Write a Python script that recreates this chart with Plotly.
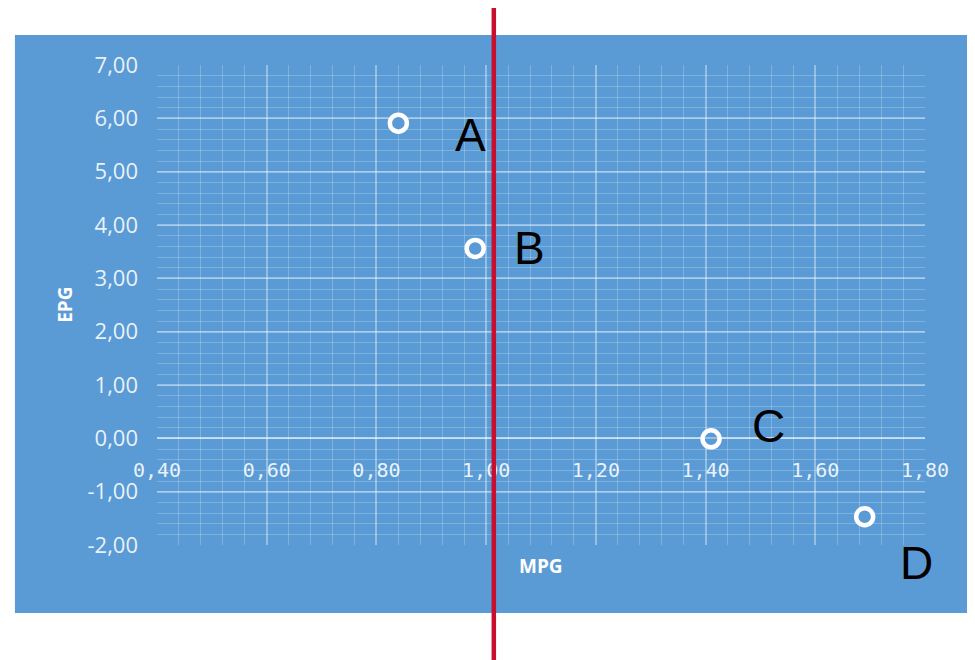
import plotly.graph_objects as go

# données
labels = ["A", "B", "C", "D"]
mpg = [0.84, 0.98, 1.41, 1.69]
epg = [5.91, 3.56, -0.01, -1.47]
seuil_mpg = 1.014

x_range = [0.40, 1.80]
y_range = [-2.0, 7.0]
y_ticks = [-2, -1, 0, 1, 2, 3, 4, 5, 6, 7]

# décalages des étiquettes (px)
label_dx = [72, 54, 57, 52]
label_dy = [-12, 0, 13, -46]

BLEU = "#5B9BD5"
ROUGE = "#C8102E"
GRID_MAJ = "rgba(255,255,255,0.36)"
GRID_MIN = "rgba(255,255,255,0.22)"
TXT = "rgba(255,255,255,0.88)"

fig = go.Figure()

fig.add_trace(go.Scatter(
    x=mpg, y=epg, mode="markers",
    marker=dict(symbol="circle", size=17, color=BLEU,
                line=dict(color="white", width=4.5)),
    showlegend=False, hoverinfo="x+y",
))

for lab, x, y, dx, dy in zip(labels, mpg, epg, label_dx, label_dy):
    fig.add_annotation(x=x, y=y, text=lab, showarrow=False,
                       xshift=dx, yshift=dy,
                       font=dict(family="Liberation Sans, Arial", size=46, color="black"))

# fond bleu du graphique
fig.add_shape(type="rect", xref="paper", yref="paper",
              x0=-0.185, x1=1.08, y0=-0.1417, y1=1.0625,
              fillcolor=BLEU, line_width=0, layer="below")

# ligne rouge verticale
fig.add_shape(type="line", xref="x", yref="paper",
              x0=seuil_mpg, x1=seuil_mpg, y0=-0.26, y1=1.13,
              line=dict(color=ROUGE, width=4.5), layer="above")

# titres des axes
fig.add_annotation(xref="paper", yref="paper", x=0.5, y=-0.044,
                   xanchor="center", yanchor="middle",
                   text="<b>MPG</b>", showarrow=False,
                   font=dict(family="Open Sans", size=19, color="white"))
fig.add_annotation(xref="paper", yref="paper", x=-0.12, y=0.5,
                   xanchor="center", yanchor="middle", textangle=-90,
                   text="<b>EPG</b>", showarrow=False,
                   font=dict(family="Open Sans", size=19, color="white"))

fig.update_layout(
    width=975, height=660,
    margin=dict(l=149, r=58, t=57, b=123),
    paper_bgcolor="white", plot_bgcolor=BLEU,
    separators=", ",
    xaxis=dict(
        range=x_range, dtick=0.2, tick0=0.4, tickformat=".2f",
        anchor="free", position=(0 - y_range[0]) / (y_range[1] - y_range[0]),
        showgrid=True, gridcolor=GRID_MAJ, gridwidth=2,
        minor=dict(dtick=0.04, tick0=0.4, showgrid=True, gridcolor=GRID_MIN, gridwidth=1),
        showline=True, linecolor=GRID_MAJ, linewidth=2,
        zeroline=False, ticks="", ticklabelstandoff=14,
        tickfont=dict(family="DejaVu Sans Mono", size=20, color=TXT),
    ),
    yaxis=dict(
        range=y_range, tickmode="array", tickvals=y_ticks,
        ticktext=[f"{v:.2f}".replace(".", ",") for v in y_ticks],
        showgrid=True, gridcolor=GRID_MAJ, gridwidth=2,
        minor=dict(dtick=0.2, tick0=0, showgrid=True, gridcolor=GRID_MIN, gridwidth=1),
        zeroline=False, ticks="", ticklabelstandoff=18,
        tickfont=dict(family="Open Sans", size=22, color=TXT),
    ),
)

fig.write_html("out.html")
